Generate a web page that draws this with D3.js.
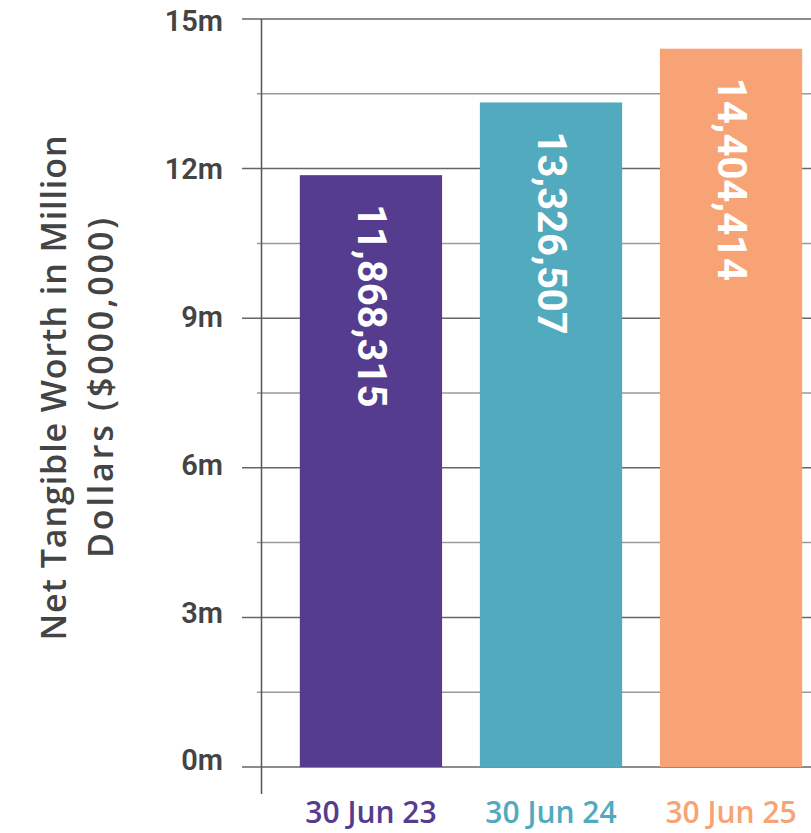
<!DOCTYPE html>
<html>
<head>
<meta charset="utf-8">
<script src="https://cdn.jsdelivr.net/npm/d3@7"></script>
<style>
  html, body { margin: 0; padding: 0; background: #fff; }
  svg { display: block; font-family: "Open Sans", "Noto Sans", sans-serif; }
</style>
</head>
<body>
<div id="chart"></div>
<script>
// Net tangible worth at each balance date (dollars)
const categories = ["30 Jun 23", "30 Jun 24", "30 Jun 25"];
const values = [11868315, 13326507, 14404414];
const colors = ["#553c8f", "#51aabe", "#f7a375"];
const majorTicks = [0, 3, 6, 9, 12, 15];
const minorTicks = [1.5, 4.5, 7.5, 10.5, 13.5];
const axisTitle = ["Net Tangible Worth in Million", "Dollars ($000,000)"];

const W = 811, H = 833;
const svg = d3.select("#chart").append("svg")
  .attr("width", W).attr("height", H);

const x = d3.scaleBand()
  .domain(categories)
  .range([262, 840])
  .paddingInner(0.21)
  .paddingOuter(0.21);

const y = d3.scaleLinear()
  .domain([0, 15])
  .range([767, 19]);

// tick labels sit on a slightly tighter spread than the gridlines
const yLabel = d3.scaleLinear()
  .domain([0, 15])
  .range([760, 21]);

// minor gridlines (short tick)
svg.append("g").selectAll("line").data(minorTicks).join("line")
  .attr("x1", 257).attr("x2", W)
  .attr("y1", d => y(d)).attr("y2", d => y(d))
  .attr("stroke", "#9a9a9a").attr("stroke-width", 1.5);

// major gridlines (long tick)
svg.append("g").selectAll("line").data(majorTicks).join("line")
  .attr("x1", 242).attr("x2", W)
  .attr("y1", d => y(d)).attr("y2", d => y(d))
  .attr("stroke", "#666").attr("stroke-width", 1.5);

// tick labels
svg.append("g").selectAll("text").data(majorTicks).join("text")
  .attr("x", 223).attr("y", d => yLabel(d))
  .attr("dy", "0.36em")
  .attr("text-anchor", "end")
  .attr("fill", "#444")
  .attr("font-family", "Roboto, sans-serif")
  .attr("font-size", 29)
  .attr("font-weight", 600)
  .text(d => d + "m");

// bars
svg.append("g").selectAll("rect").data(values).join("rect")
  .attr("x", (d, i) => x(categories[i]))
  .attr("width", x.bandwidth())
  .attr("y", d => y(d / 1e6))
  .attr("height", d => y(0) - y(d / 1e6))
  .attr("fill", (d, i) => colors[i]);

// vertical axis line
svg.append("line")
  .attr("x1", 261.5).attr("x2", 261.5)
  .attr("y1", y(15)).attr("y2", 794)
  .attr("stroke", "#555").attr("stroke-width", 1.5);

// value labels inside bars, reading downward
const fmt = d3.format(",");
svg.append("g").selectAll("text").data(values).join("text")
  .attr("transform", (d, i) =>
    `translate(${x(categories[i]) + x.bandwidth() / 2 + 1},${y(d / 1e6) + 29}) rotate(90)`)
  .attr("dy", "0.36em")
  .attr("text-anchor", "start")
  .attr("fill", "#fff")
  .attr("font-family", "Roboto, sans-serif")
  .attr("font-size", 40)
  .attr("font-weight", 700)
  .text(d => fmt(d));

// category labels
svg.append("g").selectAll("text").data(categories).join("text")
  .attr("x", d => x(d) + x.bandwidth() / 2)
  .attr("y", 823)
  .attr("text-anchor", "middle")
  .attr("fill", (d, i) => colors[i])
  .attr("font-size", 30)
  .attr("font-weight", 600)
  .text(d => d);

// y axis title, two lines centred on the plot height
const titleLen = [505, 340];
svg.append("g").selectAll("text").data(axisTitle).join("text")
  .attr("transform", (d, i) => `translate(${66 + i * 47},388) rotate(-90)`)
  .attr("text-anchor", "middle")
  .attr("fill", "#444")
  .attr("font-size", 34)
  .attr("font-weight", 600)
  .attr("textLength", (d, i) => titleLen[i])
  .attr("lengthAdjust", "spacing")
  .text(d => d);
</script>
</body>
</html>
